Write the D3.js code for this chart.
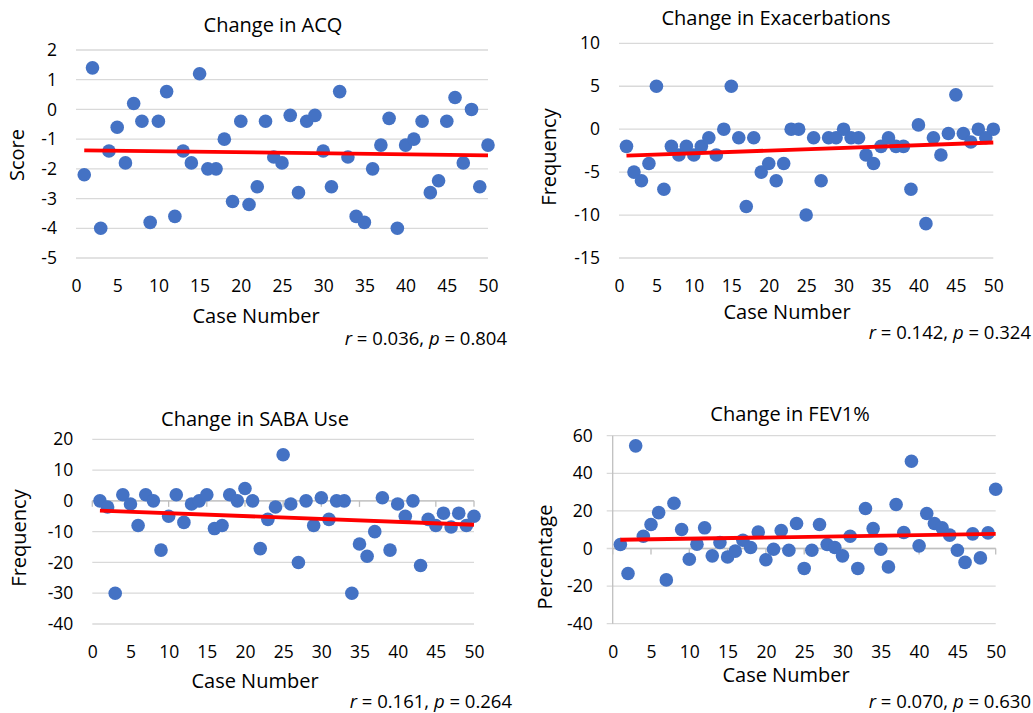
<!DOCTYPE html>
<html>
<head>
<meta charset="utf-8">
<script src="https://cdn.jsdelivr.net/npm/d3@7"></script>
<style>
  body { margin: 0; background: #fff; }
  svg text { font-family: "Open Sans", Lato, sans-serif; fill: #000; }
</style>
</head>
<body>
<svg id="chart" width="1033" height="713"></svg>
<script>
// ---- Data ----
const caseNumbers = [1,2,3,4,5,6,7,8,9,10,11,12,13,14,15,16,17,18,19,20,21,22,23,24,25,26,27,28,29,30,31,32,33,34,35,36,37,38,39,40,41,42,43,44,45,46,47,48,49,50];
const xTicks = [0,5,10,15,20,25,30,35,40,45,50];

const acqChange = [-2.2,1.4,-4.0,-1.4,-0.6,-1.8,0.2,-0.4,-3.8,-0.4,0.6,-3.6,-1.4,-1.8,1.2,-2.0,-2.0,-1.0,-3.1,-0.4,-3.2,-2.6,-0.4,-1.6,-1.8,-0.2,-2.8,-0.4,-0.2,-1.4,-2.6,0.6,-1.6,-3.6,-3.8,-2.0,-1.2,-0.3,-4.0,-1.2,-1.0,-0.4,-2.8,-2.4,-0.4,0.4,-1.8,0.0,-2.6,-1.2];
const exacChange = [-2,-5,-6,-4,5,-7,-2,-3,-2,-3,-2,-1,-3,0,5,-1,-9,-1,-5,-4,-6,-4,0,0,-10,-1,-6,-1,-1,0,-1,-1,-3,-4,-2,-1,-2,-2,-7,0.5,-11,-1,-3,-0.5,4,-0.5,-1.5,0,-1,0];
const sabaChange = [0,-2,-30,2,-1,-8,2,0,-16,-5,2,-7,-1,0,2,-9,-8,2,0,4,0,-15.5,-6,-2,15,-1,-20,0,-8,1,-6,0,0,-30,-14,-18,-10,1,-16,-1,-5,0,-21,-6,-8,-4,-8.5,-4,-8,-5];
const fevChange = [2.1,-13.3,54.6,6.5,12.8,19.1,-16.7,24.1,10.1,-5.7,2.3,11,-3.9,3.2,-4.5,-1.4,4.4,0.5,8.8,-6,-0.4,9.6,-0.9,13.3,-10.6,-0.9,12.8,2.1,0.5,-3.9,6.5,-10.6,21.3,10.6,-0.4,-9.8,23.4,8.5,46.4,1.4,18.6,13.3,11,7.1,-0.9,-7.4,7.8,-5,8.3,31.5];

const acqTicks = [2,1,0,-1,-2,-3,-4,-5];
const exacTicks = [10,5,0,-5,-10,-15];
const sabaTicks = [20,10,0,-10,-20,-30,-40];
const fevTicks = [60,40,20,0,-20,-40];

const titles = ["Change in ACQ","Change in Exacerbations","Change in SABA Use","Change in FEV1%"];
const yTitles = ["Score","Frequency","Frequency","Percentage"];
const rValues = ["0.036","0.142","0.161","0.070"];
const pValues = ["0.804","0.324","0.264","0.630"];

// ---- Layout ----
const panels = [
  {values: acqChange, ticks: acqTicks, title: titles[0], yTitle: yTitles[0], r: rValues[0], p: pValues[0],
   left: 76, right: 488, top: 50, bottom: 258, titleX: 273, titleY: 27, yTitleX: 19, yTitleY: 155,
   caseX: 256, caseY: 318, statX: 507, statY: 340, axes: false},
  {values: exacChange, ticks: exacTicks, title: titles[1], yTitle: yTitles[1], r: rValues[1], p: pValues[1],
   left: 619, right: 993.3, top: 43.3, bottom: 258, titleX: 776, titleY: 20, yTitleX: 551, yTitleY: 157,
   caseX: 787, caseY: 314, statX: 1031, statY: 334, axes: false},
  {values: sabaChange, ticks: sabaTicks, title: titles[2], yTitle: yTitles[2], r: rValues[2], p: pValues[2],
   left: 92.3, right: 474, top: 439.3, bottom: 624, titleX: 255, titleY: 421, yTitleX: 21, yTitleY: 538,
   caseX: 255, caseY: 683, statX: 512, statY: 703, axes: "x"},
  {values: fevChange, ticks: fevTicks, title: titles[3], yTitle: yTitles[3], r: rValues[3], p: pValues[3],
   left: 612.7, right: 995.7, top: 435.7, bottom: 623.7, titleX: 790, titleY: 416, yTitleX: 547, yTitleY: 557,
   caseX: 786, caseY: 677, statX: 1031, statY: 703, axes: "xy"}
];

const FONT = '"Open Sans", Lato, sans-serif';
const svg = d3.select("#chart");

function regression(xs, ys) {
  const n = xs.length;
  const mx = d3.mean(xs), my = d3.mean(ys);
  let sxy = 0, sxx = 0;
  for (let i = 0; i < n; i++) { sxy += (xs[i]-mx)*(ys[i]-my); sxx += (xs[i]-mx)*(xs[i]-mx); }
  const b = sxy / sxx;
  return {b, a: my - b*mx};
}

panels.forEach(P => {
  const g = svg.append("g");
  const x = d3.scaleLinear().domain([0, 50]).range([P.left, P.right]);
  const y = d3.scaleLinear().domain([d3.min(P.ticks), d3.max(P.ticks)]).range([P.bottom, P.top]);

  // gridlines
  g.append("g").selectAll("line").data(P.ticks).join("line")
    .attr("x1", P.axes === "xy" ? P.left - 6 : P.left).attr("x2", P.right)
    .attr("y1", d => y(d)).attr("y2", d => y(d))
    .attr("stroke", "#d9d9d9").attr("stroke-width", 1.3);

  // y axis labels
  const yAxis = d3.axisLeft(y).tickValues(P.ticks).tickFormat(d => String(d)).tickSize(0).tickPadding(P.axes === "xy" ? 20 : 19);
  const ya = g.append("g").attr("transform", `translate(${P.left},0)`).call(yAxis);
  ya.select(".domain").remove();
  ya.selectAll("text").attr("font-size", 17.5).attr("font-family", FONT).attr("fill", "#000");

  // x axis labels (at bottom)
  const xAxis = d3.axisBottom(x).tickValues(xTicks).tickFormat(d => String(d)).tickSize(0).tickPadding(22);
  const xa = g.append("g").attr("transform", `translate(0,${P.bottom})`).call(xAxis);
  xa.select(".domain").remove();
  xa.selectAll("text").attr("font-size", 17.5).attr("font-family", FONT).attr("fill", "#000");

  // axis lines at zero
  if (P.axes) {
    const z = y(0);
    g.append("line").attr("x1", P.left).attr("x2", P.right).attr("y1", z).attr("y2", z)
      .attr("stroke", "#bfbfbf").attr("stroke-width", 1.3);
    g.append("g").selectAll("line").data(xTicks).join("line")
      .attr("x1", d => x(d)).attr("x2", d => x(d)).attr("y1", z).attr("y2", z + 6)
      .attr("stroke", "#bfbfbf").attr("stroke-width", 1.3);
  }
  if (P.axes === "xy") {
    g.append("line").attr("x1", P.left).attr("x2", P.left).attr("y1", P.top).attr("y2", P.bottom)
      .attr("stroke", "#bfbfbf").attr("stroke-width", 1.3);
  }

  // points
  g.append("g").selectAll("circle").data(caseNumbers.map((c, i) => [c, P.values[i]])).join("circle")
    .attr("cx", d => x(d[0])).attr("cy", d => y(d[1])).attr("r", 6.8)
    .attr("fill", "#4472C4");

  // trend line
  const reg = regression(caseNumbers, P.values);
  const x1 = d3.min(caseNumbers), x2 = d3.max(caseNumbers);
  g.append("line")
    .attr("x1", x(x1)).attr("y1", y(reg.a + reg.b*x1))
    .attr("x2", x(x2)).attr("y2", y(reg.a + reg.b*x2))
    .attr("stroke", "#ff0000").attr("stroke-width", 3.8);

  // titles
  g.append("text").attr("x", P.titleX).attr("y", P.titleY).attr("text-anchor", "middle")
    .attr("dominant-baseline", "middle").attr("font-size", 20).text(P.title);
  g.append("text").attr("transform", `translate(${P.yTitleX},${P.yTitleY}) rotate(-90)`)
    .attr("text-anchor", "middle").attr("dominant-baseline", "middle").attr("font-size", 20).text(P.yTitle);
  g.append("text").attr("x", P.caseX).attr("y", P.caseY).attr("text-anchor", "middle")
    .attr("dominant-baseline", "middle").attr("font-size", 20).text("Case Number");

  const st = g.append("text").attr("x", P.statX).attr("y", P.statY).attr("text-anchor", "end")
    .attr("dominant-baseline", "middle").attr("font-size", 18.5);
  st.append("tspan").attr("font-style", "italic").text("r");
  st.append("tspan").text(` = ${P.r}, `);
  st.append("tspan").attr("font-style", "italic").text("p");
  st.append("tspan").text(` = ${P.p}`);
});
</script>
</body>
</html>
